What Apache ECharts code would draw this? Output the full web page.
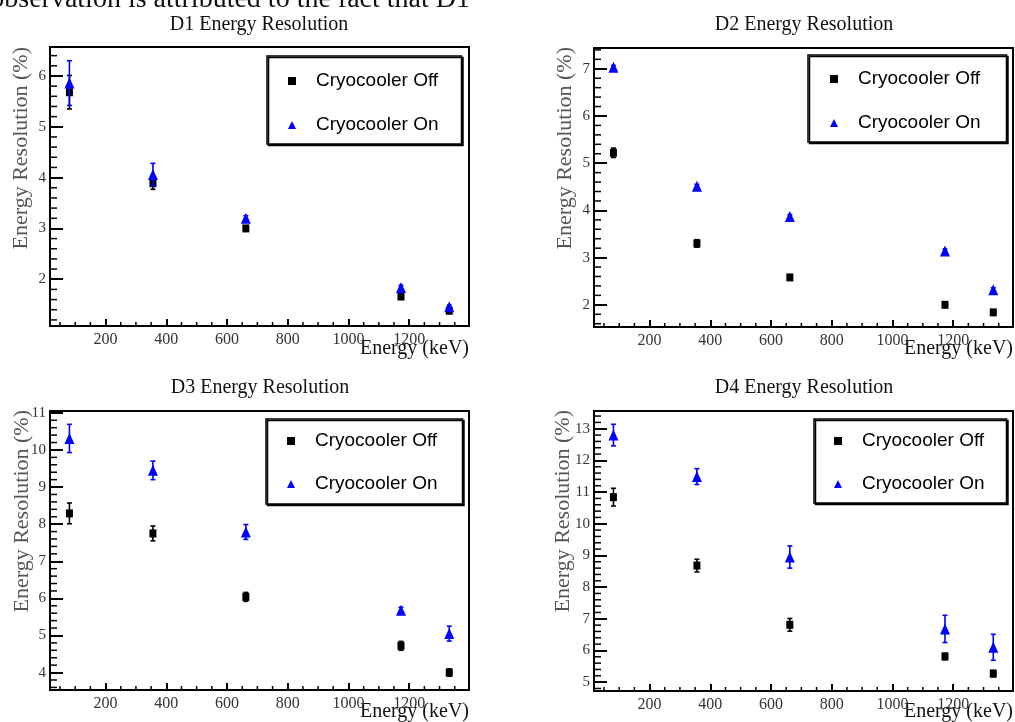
<!DOCTYPE html>
<html lang="en">
<head>
    <meta charset="UTF-8">
    <title>Energy Resolution</title>
    <style>
        html, body { margin: 0; padding: 0; background: #fff; }
    </style>
</head>
<body>
<div id="main" style="width: 1015px;height:722px;"></div>
<script src="https://cdn.jsdelivr.net/npm/echarts@6/dist/echarts.min.js"></script>
<script>
    // source energies (keV)
    var energyKeV = [81, 356, 662, 1173, 1332];

    // resolution (%) and errors
    var d1OffRes = [5.68, 3.89, 3.00, 1.66, 1.38];
    var d1OffErr = [0.33, 0.12, 0.05, 0.04, 0.03];
    var d1OnRes  = [5.86, 4.06, 3.20, 1.84, 1.46];
    var d1OnErr  = [0.44, 0.22, 0.05, 0.04, 0.03];

    var d2OffRes = [5.22, 3.30, 2.58, 2.00, 1.84];
    var d2OffErr = [0.10, 0.08, 0.03, 0.03, 0.03];
    var d2OnRes  = [7.03, 4.51, 3.87, 3.14, 2.32];
    var d2OnErr  = [0.04, 0.04, 0.04, 0.04, 0.04];

    var d3OffRes = [8.29, 7.75, 6.04, 4.72, 4.00];
    var d3OffErr = [0.28, 0.20, 0.12, 0.12, 0.10];
    var d3OnRes  = [10.31, 9.45, 7.79, 5.68, 5.05];
    var d3OnErr  = [0.38, 0.25, 0.20, 0.08, 0.20];

    var d4OffRes = [10.84, 8.68, 6.81, 5.81, 5.27];
    var d4OffErr = [0.28, 0.20, 0.20, 0.10, 0.10];
    var d4OnRes  = [12.80, 11.49, 8.95, 6.68, 6.10];
    var d4OnErr  = [0.34, 0.25, 0.35, 0.43, 0.41];

    // tick labels
    var xTickLabels = [200, 400, 600, 800, 1000, 1200];
    var d1YTicks = [2, 3, 4, 5, 6];
    var d2YTicks = [2, 3, 4, 5, 6, 7];
    var d3YTicks = [4, 5, 6, 7, 8, 9, 10, 11];
    var d4YTicks = [5, 6, 7, 8, 9, 10, 11, 12, 13];

    var titles = ['D1 Energy Resolution', 'D2 Energy Resolution', 'D3 Energy Resolution', 'D4 Energy Resolution'];
    var seriesNames = ['Cryocooler Off', 'Cryocooler On'];
    var xName = 'Energy (keV)';
    var yName = 'Energy Resolution (%)';
    var pageText = 'observation is attributed to the fact that D1';

    var X_MIN = 17, X_MAX = 1397;
    var SERIF = 'Liberation Serif';
    var SANS = 'Liberation Sans';

    var panels = [
        {off: d1OffRes, offErr: d1OffErr, on: d1OnRes, onErr: d1OnErr, yTicks: d1YTicks, yMin: 1.08, yMax: 6.57,
            grid: {left: 50, top: 47, width: 419, height: 279},
            legend: {left: 267, top: 56, padding: [14, 23, 8, 21], gap: 22},
            titlePos: [259, 25], yNamePos: [21, 47], xNamePos: [469, 349]},
        {off: d2OffRes, offErr: d2OffErr, on: d2OnRes, onErr: d2OnErr, yTicks: d2YTicks, yMin: 1.53, yMax: 7.44,
            grid: {left: 594, top: 48, width: 419, height: 279},
            legend: {left: 808, top: 55, padding: [13, 26, 8, 22], gap: 22},
            titlePos: [804, 25], yNamePos: [565, 47], xNamePos: [1013, 349]},
        {off: d3OffRes, offErr: d3OffErr, on: d3OnRes, onErr: d3OnErr, yTicks: d3YTicks, yMin: 3.53, yMax: 11.05,
            grid: {left: 50, top: 411, width: 419, height: 279},
            legend: {left: 266, top: 419, padding: [11, 25, 9, 21], gap: 21},
            titlePos: [260, 388], yNamePos: [22, 410], xNamePos: [469, 712]},
        {off: d4OffRes, offErr: d4OffErr, on: d4OnRes, onErr: d4OnErr, yTicks: d4YTicks, yMin: 4.72, yMax: 13.56,
            grid: {left: 594, top: 411, width: 419, height: 280},
            legend: {left: 814, top: 419, padding: [11, 22, 8, 20], gap: 21},
            titlePos: [804, 388], yNamePos: [563, 410], xNamePos: [1013, 712]}
    ];

    // minor tick positions between the labelled ones
    function minorTicks(lo, hi, step, majors) {
        var out = [];
        for (var v = Math.ceil(lo / step) * step; v <= hi + 1e-9; v += step) {
            var r = Math.round(v * 1000) / 1000;
            if (majors.indexOf(r) < 0) out.push(r);
        }
        return out;
    }

    function errorBar(color) {
        return function (params, api) {
            var x = api.value(0), y = api.value(1), e = api.value(2);
            var hi = api.coord([x, y + e]);
            var lo = api.coord([x, y - e]);
            var cap = 2.5;
            var st = {stroke: color, lineWidth: 1.6};
            return {
                type: 'group',
                children: [
                    {type: 'line', shape: {x1: hi[0], y1: hi[1], x2: lo[0], y2: lo[1]}, style: st},
                    {type: 'line', shape: {x1: hi[0] - cap, y1: hi[1], x2: hi[0] + cap, y2: hi[1]}, style: st},
                    {type: 'line', shape: {x1: lo[0] - cap, y1: lo[1], x2: lo[0] + cap, y2: lo[1]}, style: st}
                ]
            };
        };
    }

    var grids = [], xAxes = [], yAxes = [], series = [], legends = [], graphics = [];

    graphics.push({
        type: 'text', x: 470, y: 0,
        style: {text: pageText, font: '28px "' + SERIF + '"', fill: '#111',
            align: 'right', textAlign: 'right', verticalAlign: 'middle', textVerticalAlign: 'middle'}
    });

    panels.forEach(function (p, i) {
        grids.push({
            left: p.grid.left, top: p.grid.top, width: p.grid.width, height: p.grid.height,
            show: true, borderColor: '#000', borderWidth: 2
        });

        xAxes.push({
            gridIndex: i, type: 'value', position: 'bottom', min: X_MIN, max: X_MAX,
            axisLine: {show: false}, splitLine: {show: false},
            axisTick: {show: true, inside: true, length: 7, customValues: xTickLabels,
                lineStyle: {color: '#000', width: 2}},
            axisLabel: {customValues: xTickLabels, margin: 6, color: '#333',
                fontFamily: SERIF, fontSize: 16,
                formatter: function (v) { return String(v); }}
        });
        yAxes.push({
            gridIndex: i, type: 'value', position: 'left', min: p.yMin, max: p.yMax,
            axisLine: {show: false}, splitLine: {show: false},
            axisTick: {show: true, inside: true, length: 13, customValues: p.yTicks,
                lineStyle: {color: '#000', width: 2}},
            axisLabel: {customValues: p.yTicks, margin: 4, color: '#333',
                fontFamily: SERIF, fontSize: 15,
                formatter: function (v) { return String(v); }}
        });

        series.push({
            type: 'custom', name: 'off-err-' + i, xAxisIndex: i, yAxisIndex: i, silent: true, z: 2,
            renderItem: errorBar('#000'), encode: {x: 0, y: 1},
            data: energyKeV.map(function (e, k) { return [e, p.off[k], p.offErr[k]]; })
        });
        series.push({
            type: 'scatter', name: seriesNames[0], xAxisIndex: i, yAxisIndex: i, z: 3,
            symbol: 'rect', symbolSize: [7, 8], itemStyle: {color: '#000', opacity: 1},
            data: energyKeV.map(function (e, k) { return [e, p.off[k]]; })
        });
        series.push({
            type: 'custom', name: 'on-err-' + i, xAxisIndex: i, yAxisIndex: i, silent: true, z: 4,
            renderItem: errorBar('#0000ff'), encode: {x: 0, y: 1},
            data: energyKeV.map(function (e, k) { return [e, p.on[k], p.onErr[k]]; })
        });
        series.push({
            type: 'scatter', name: seriesNames[1], xAxisIndex: i, yAxisIndex: i, z: 5,
            symbol: 'triangle', symbolSize: [10, 11], itemStyle: {color: '#0000ff', opacity: 1},
            data: energyKeV.map(function (e, k) { return [e, p.on[k]]; })
        });

        legends.push({
            left: p.legend.left, top: p.legend.top, orient: 'vertical',
            data: [{name: seriesNames[0], icon: 'rect'}, {name: seriesNames[1], icon: 'triangle'}],
            itemWidth: 8, itemHeight: 8, itemGap: p.legend.gap,
            padding: p.legend.padding, selectedMode: false,
            borderColor: '#000', borderWidth: 1.5, backgroundColor: '#fff',
            shadowColor: '#000', shadowBlur: 0, shadowOffsetX: 1.5, shadowOffsetY: 1.5,
            textStyle: {fontFamily: SANS, fontSize: 19, color: '#000', lineHeight: 22, padding: [0, 0, 0, 15]}
        });

        graphics.push({
            type: 'text', x: p.titlePos[0], y: p.titlePos[1],
            style: {text: titles[i], font: '20px "' + SERIF + '"', fill: '#111',
                align: 'center', textAlign: 'center', verticalAlign: 'middle', textVerticalAlign: 'middle'}
        });
        graphics.push({
            type: 'text', x: p.yNamePos[0], y: p.yNamePos[1], rotation: Math.PI / 2,
            style: {text: yName, font: '22px "' + SERIF + '"', fill: '#555',
                align: 'right', textAlign: 'right', verticalAlign: 'middle', textVerticalAlign: 'middle'}
        });
        graphics.push({
            type: 'text', x: p.xNamePos[0], y: p.xNamePos[1],
            style: {text: xName, font: '20px "' + SERIF + '"', fill: '#111',
                align: 'right', textAlign: 'right', verticalAlign: 'middle', textVerticalAlign: 'middle'}
        });
    });

    var myChart = echarts.init(document.getElementById('main'));
    var option = {
        animation: false,
        grid: grids,
        xAxis: xAxes,
        yAxis: yAxes,
        legend: legends,
        series: series,
        graphic: graphics
    };
    myChart.setOption(option);

    // minor ticks, placed through each grid's own scales once the chart is laid out
    var tickStyle = {stroke: '#000', lineWidth: 1.5};
    panels.forEach(function (p, i) {
        minorTicks(X_MIN, X_MAX, 50, xTickLabels).forEach(function (v) {
            var pt = myChart.convertToPixel({gridIndex: i}, [v, p.yMin]);
            graphics.push({type: 'line', silent: true, z: 50,
                shape: {x1: pt[0], y1: pt[1], x2: pt[0], y2: pt[1] - 4}, style: tickStyle});
        });
        minorTicks(p.yMin, p.yMax, 0.2, p.yTicks).forEach(function (v) {
            var pt = myChart.convertToPixel({gridIndex: i}, [X_MIN, v]);
            graphics.push({type: 'line', silent: true, z: 50,
                shape: {x1: pt[0], y1: pt[1], x2: pt[0] + 7, y2: pt[1]}, style: tickStyle});
        });
    });
    myChart.setOption({graphic: graphics});
</script>
</body>
</html>
